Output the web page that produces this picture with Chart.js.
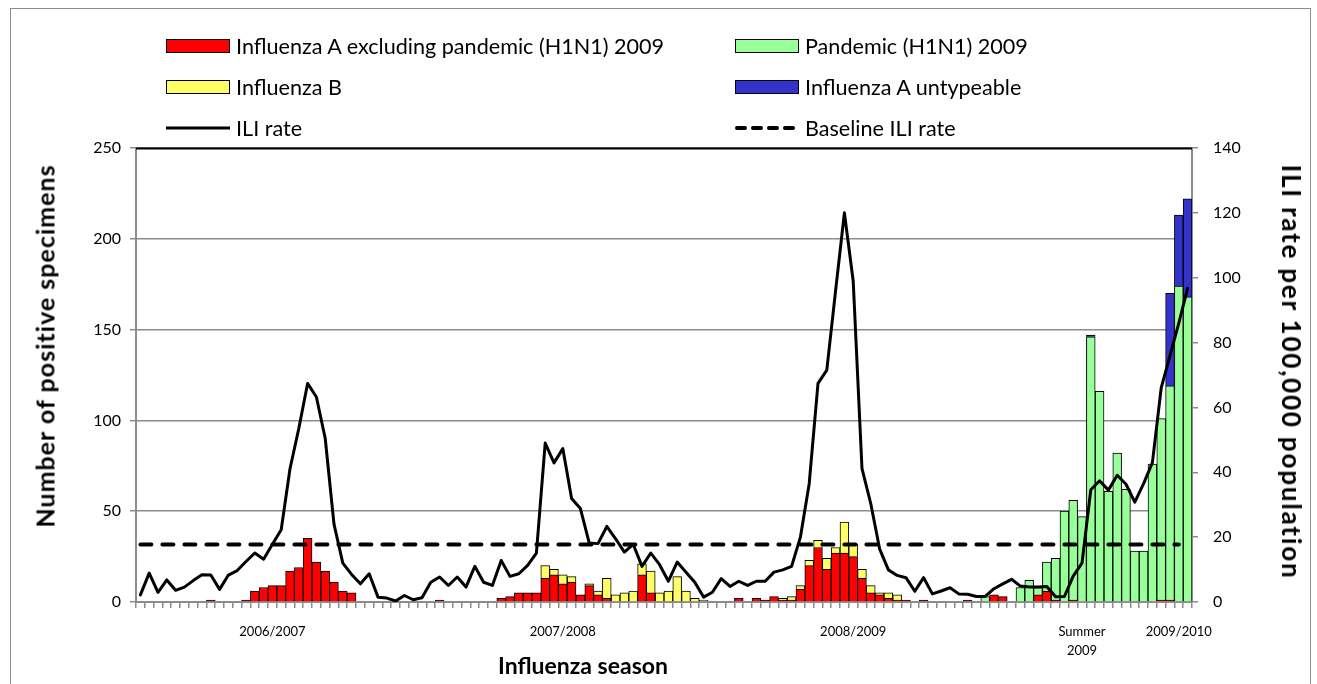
<!DOCTYPE html>
<html><head><meta charset="utf-8">
<script src="https://cdn.jsdelivr.net/npm/chart.js@4.4.0/dist/chart.umd.min.js"></script>
<style>
html,body{margin:0;padding:0;background:#fff;}
#wrap{position:relative;width:1317px;height:684px;overflow:hidden;font-family:Lato,sans-serif;background:#fff;}
#frame{position:absolute;left:10px;top:8px;width:1299px;height:720px;border:1px solid #8c8c8c;}
canvas{position:absolute;left:0;top:0;}
.lt{position:absolute;height:30px;line-height:30px;font-size:21.6px;white-space:nowrap;color:#000;}
.sw{position:absolute;width:64px;height:14px;border:1px solid #000;box-sizing:border-box;}
svg.ls{position:absolute;width:66px;height:10px;overflow:visible;}
.ttl{position:absolute;left:0;top:0;font-weight:bold;white-space:nowrap;color:#000;line-height:1;}
</style></head><body>
<div id="wrap">
<div id="frame"></div>
<canvas id="c" width="1317" height="684"></canvas>
<div id="legend"></div>
<div id="titles"></div>
</div>
<script>
// ---- data ----
const seasonTicks = [[15,'2006/2007'],[48,'2007/2008'],[81,'2008/2009'],[107,['Summer','2009']],[118,'2009/2010']];
const nWeeks = 120;
const seriesNames = ['Influenza A excluding pandemic (H1N1) 2009','Pandemic (H1N1) 2009','Influenza B','Influenza A untypeable','ILI rate','Baseline ILI rate'];
const axisTitles = {x:'Influenza season', y:'Number of positive specimens', y1:'ILI rate per 100,000 population'};
const fluA = [0,0,0,0,0,0,0,0,1,0, 0,0,1,6,8,9,9,17,19,35, 22,17,11,6,5,0,0,0,0,0, 0,0,0,0,1,0,0,0,0,0,
  0,2,3,5,5,5,13,15,10,11, 4,9,4,2,0,0,0,15,5,0, 0,0,0,0,0,0,0,0,2,0, 2,1,3,1,1,7,20,30,18,27,
  27,25,13,5,4,2,1,1,0,1, 0,0,0,0,1,0,0,4,3,0, 0,0,4,6,1,0,1,0,0,0, 0,0,0,0,0,0,1,1,0,0];
const pandemic = [0,0,0,0,0,0,0,0,0,0, 0,0,0,0,0,0,0,0,0,0, 0,0,0,0,0,0,0,0,0,0, 0,0,0,0,0,0,0,0,0,0,
  0,0,0,0,0,0,0,0,0,0, 0,0,0,0,0,0,0,0,0,0, 0,0,0,0,0,0,0,0,0,0, 0,0,0,0,0,0,0,0,0,0,
  0,0,0,0,0,0,0,0,0,0, 0,0,0,0,0,0,3,0,0,0, 8,12,4,16,23,50,55,47,146,116, 61,82,62,28,28,76,100,118,174,168];
const fluB = [0,0,0,0,0,0,0,0,0,0, 0,0,0,0,0,0,0,0,0,0, 0,0,0,0,0,0,0,0,0,0, 0,0,0,0,0,0,0,0,0,0,
  0,0,0,0,0,0,7,3,5,3, 0,1,2,11,4,5,6,6,12,5, 6,14,6,2,1,0,0,0,0,0, 0,0,0,1,2,2,3,4,6,3,
  17,7,5,4,1,3,3,0,0,0, 0,0,0,0,0,0,0,0,0,0, 0,0,0,0,0,0,0,0,0,0, 0,0,0,0,0,0,0,0,0,0];
const untypeable = [0,0,0,0,0,0,0,0,0,0, 0,0,0,0,0,0,0,0,0,0, 0,0,0,0,0,0,0,0,0,0, 0,0,0,0,0,0,0,0,0,0,
  0,0,0,0,0,0,0,0,0,0, 0,0,0,0,0,0,0,0,0,0, 0,0,0,0,0,0,0,0,0,0, 0,0,0,0,0,0,0,0,0,0,
  0,0,0,0,0,0,0,0,0,0, 0,0,0,0,0,0,0,0,0,0, 0,0,0,0,0,0,0,0,1,0, 0,0,0,0,0,0,0,51,39,54];
const iliRate = [2.2,8.9,3.0,6.8,3.6,4.6,6.6,8.4,8.3,3.9, 8.3,9.7,12.5,15.1,13.2,17.8,22.3,41.1,53.5,67.4,
  63.2,50.5,24.0,12.0,8.5,5.6,8.7,1.5,1.2,0.3, 2.0,0.7,1.3,6.1,7.7,5.1,7.7,4.6,11.0,6.1,
  5.1,12.8,7.9,8.7,11.3,15.1,49.0,42.9,47.3,31.9, 28.8,18.2,18.0,23.3,19.5,15.4,17.8,11.0,15.1,11.5,
  6.4,12.3,9.2,6.1,1.5,3.0,7.2,4.8,6.4,5.1, 6.4,6.4,9.2,9.9,11.0,20.0,36.5,67.4,71.5,96.0,
  120.0,99.0,41.1,30.3,16.4,9.9,8.2,7.5,3.3,7.5, 2.5,3.4,4.4,2.5,2.4,1.7,1.7,4.1,5.6,7.0,
  4.9,4.6,4.6,4.8,1.6,1.7,8.0,12.0,34.6,37.4, 34.5,39.1,36.3,30.8,36.5,43.0,66.0,76.0,86.0,96.7];
const baselineValue = 17.7;
const baselineWeeks = 119;
const leftTicks = {min:0, max:250, step:50};
const rightTicks = {min:0, max:140, step:20};

// ---- derived ----
const categories = Array.from({length:nWeeks}, () => '');
seasonTicks.forEach(([i, t]) => { categories[i] = t; });
const baseline = Array.from({length:nWeeks}, (_, i) => i < baselineWeeks ? baselineValue : null);

const barColors = ['#FF0000','#99FF99','#FFFF66','#3333CC'];
const FONT = 'Lato';

const topLine = {
  id:'topLine',
  beforeDatasetsDraw(chart){
    const {ctx, chartArea:a} = chart;
    ctx.save(); ctx.strokeStyle='#000'; ctx.lineWidth=2;
    ctx.beginPath(); ctx.moveTo(a.left, a.top+0.5); ctx.lineTo(a.right, a.top+0.5); ctx.stroke(); ctx.restore();
  }
};

const barSet = (name, data, color) => ({type:'bar', label:name, data, backgroundColor:color, borderColor:'#000',
  borderWidth:1, yAxisID:'y', stack:'s', order:2, barPercentage:1, categoryPercentage:1});

new Chart(document.getElementById('c'), {
  data:{
    labels:categories,
    datasets:[
      barSet(seriesNames[0], fluA, barColors[0]),
      barSet(seriesNames[1], pandemic, barColors[1]),
      barSet(seriesNames[2], fluB, barColors[2]),
      barSet(seriesNames[3], untypeable, barColors[3]),
      {type:'line', label:seriesNames[4], data:iliRate, borderColor:'#000', borderWidth:3, pointRadius:0,
        yAxisID:'y1', order:1, tension:0, borderJoinStyle:'round', borderCapStyle:'round'},
      {type:'line', label:seriesNames[5], data:baseline, borderColor:'#000', borderWidth:4, borderDash:[11,11],
        borderCapStyle:'round', pointRadius:0, yAxisID:'y1', order:0, tension:0}
    ]
  },
  options:{
    responsive:false, animation:false, devicePixelRatio:1,
    layout:{padding:{top:148,left:0,right:0,bottom:0}},
    plugins:{legend:{display:false}, tooltip:{enabled:false}},
    scales:{
      x:{stacked:true, offset:true,
        grid:{offset:true, drawOnChartArea:false, tickLength:6, color:'#8c8c8c', lineWidth:1.5},
        border:{color:'#8c8c8c', width:2},
        ticks:{autoSkip:false, maxRotation:0, minRotation:0, padding:14, color:'#000',
          font:{family:FONT, size:13, lineHeight:1.5}},
        afterFit(s){ s.height = 82; }
      },
      y:{position:'left', stacked:true, min:leftTicks.min, max:leftTicks.max,
        ticks:{stepSize:leftTicks.step, padding:9, color:'#000', font:{family:FONT, size:16}},
        grid:{color:'#8c8c8c', lineWidth:1.5, tickLength:6},
        border:{color:'#8c8c8c', width:2},
        afterFit(s){ s.width = 136; }
      },
      y1:{position:'right', stacked:false, min:rightTicks.min, max:rightTicks.max,
        ticks:{stepSize:rightTicks.step, padding:15, color:'#000', font:{family:FONT, size:16}},
        grid:{drawOnChartArea:false, color:'#8c8c8c', lineWidth:1.5, tickLength:6},
        border:{color:'#8c8c8c', width:2},
        afterFit(s){ s.width = 125; }
      }
    }
  },
  plugins:[topLine]
});

// ---- axis titles (HTML text) ----
const titleSpecs = [
  {text:axisTitles.x, cx:583, cy:665, size:23, ls:0, rot:0},
  {text:axisTitles.y, cx:45, cy:346, size:25, ls:1, rot:-90},
  {text:axisTitles.y1, cx:1292, cy:372, size:26, ls:1.8, rot:90}
];
const tEl = document.getElementById('titles');
titleSpecs.forEach(s => {
  const d = document.createElement('div'); d.className='ttl'; d.textContent = s.text;
  d.style.fontSize = s.size+'px';
  d.style.letterSpacing = s.ls+'px';
  d.style.transform = `translate(${s.cx}px, ${s.cy}px) translate(-50%, -50%) rotate(${s.rot}deg)`;
  tEl.appendChild(d);
});

// ---- legend (HTML) ----
const legendItems = [
  {name:seriesNames[0], kind:'box', color:barColors[0], col:0, row:0},
  {name:seriesNames[1], kind:'box', color:barColors[1], col:1, row:0},
  {name:seriesNames[2], kind:'box', color:barColors[2], col:0, row:1},
  {name:seriesNames[3], kind:'box', color:barColors[3], col:1, row:1},
  {name:seriesNames[4], kind:'line', col:0, row:2},
  {name:seriesNames[5], kind:'dash', col:1, row:2}
];
const colX = [166, 735], rowY = [46, 87, 128];
const leg = document.getElementById('legend');
legendItems.forEach(it => {
  const x = colX[it.col], y = rowY[it.row];
  if (it.kind === 'box') {
    const b = document.createElement('div'); b.className='sw';
    b.style.left = x+'px'; b.style.top = (y-7)+'px'; b.style.background = it.color; leg.appendChild(b);
  } else {
    const ns='http://www.w3.org/2000/svg';
    const s = document.createElementNS(ns,'svg'); s.setAttribute('class','ls');
    s.style.left = x+'px'; s.style.top = (y-5)+'px';
    const l = document.createElementNS(ns,'line');
    l.setAttribute('x1', it.kind==='dash'?2:0); l.setAttribute('x2', it.kind==='dash'?62:64);
    l.setAttribute('y1',5); l.setAttribute('y2',5); l.setAttribute('stroke','#000');
    l.setAttribute('stroke-width', it.kind==='dash'?4:3);
    if (it.kind==='dash'){ l.setAttribute('stroke-dasharray','8 8'); l.setAttribute('stroke-linecap','round'); }
    s.appendChild(l); leg.appendChild(s);
  }
  const t = document.createElement('div'); t.className='lt'; t.textContent = it.name;
  t.style.left = (x+70)+'px'; t.style.top = (y-15)+'px'; leg.appendChild(t);
});
</script>
</body></html>
